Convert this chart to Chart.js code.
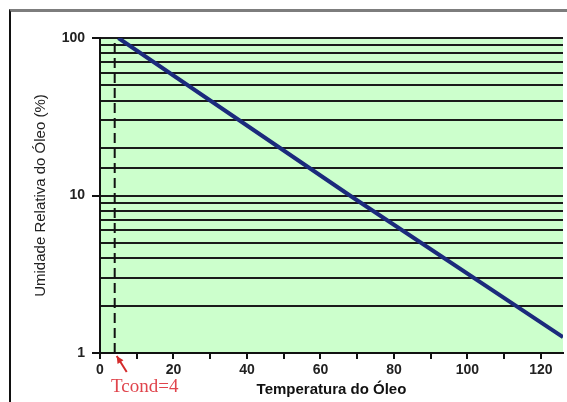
<!DOCTYPE html>
<html>
<head>
<meta charset="utf-8">
<title>Umidade Relativa do Óleo</title>
<script src="https://cdn.jsdelivr.net/npm/chart.js@4"></script>
<style>
  html, body { margin: 0; padding: 0; background: #fff; }
  .wrap { position: relative; width: 567px; height: 402px; overflow: hidden; }
  .frame {
    position: absolute; left: 9px; top: 9px; right: -4px; bottom: -4px;
    border-top: 3px solid #7d7d7d; border-left: 2px solid #111;
  }
  .chart-box { position: absolute; left: 0; top: 0; width: 567px; height: 402px; }
</style>
</head>
<body>
<div class="wrap">
  <div class="frame"></div>
  <div class="chart-box"><canvas id="oilChart"></canvas></div>
</div>
<script>
// Data
const tempValues = [5, 68, 126];          // Temperatura do Óleo
const humidityValues = [100, 10, 1.26];   // Umidade Relativa (%)
const TCOND = 4;                          // condensation temperature
const tcondRange = [1, 100];

// Axis settings
const X_MIN = 0;
const X_MAX = 126;
const X_TICK_STEP = 10;
const X_LABEL_STEP = 20;
const yLabelValues = [1, 10, 100];

const FONT = "'Liberation Sans', Arial, sans-serif";

// Light green plot background
const plotBackground = {
  id: "plotBackground",
  beforeDraw(chart) {
    const { ctx, chartArea } = chart;
    ctx.save();
    ctx.fillStyle = "#ccffcc";
    ctx.fillRect(chartArea.left, chartArea.top, chartArea.right - chartArea.left, chartArea.bottom - chartArea.top);
    ctx.restore();
  },
};

// Red "Tcond=4" note with arrow pointing at the dashed line
const tcondNote = {
  id: "tcondNote",
  afterDraw(chart) {
    const { ctx, chartArea } = chart;
    const x = chart.scales.x.getPixelForValue(TCOND);
    const y = chartArea.bottom;
    const tipX = x + 2, tipY = y + 3;
    const tailX = x + 12, tailY = y + 19;

    ctx.save();
    ctx.strokeStyle = "#d42a2a";
    ctx.fillStyle = "#d42a2a";
    ctx.lineWidth = 2;
    ctx.beginPath();
    ctx.moveTo(tailX, tailY);
    ctx.lineTo(tipX, tipY);
    ctx.stroke();
    // arrow head
    const ang = Math.atan2(tipY - tailY, tipX - tailX);
    ctx.beginPath();
    ctx.moveTo(tipX, tipY);
    ctx.lineTo(tipX - 8 * Math.cos(ang - 0.45), tipY - 8 * Math.sin(ang - 0.45));
    ctx.lineTo(tipX - 8 * Math.cos(ang + 0.45), tipY - 8 * Math.sin(ang + 0.45));
    ctx.closePath();
    ctx.fill();

    ctx.fillStyle = "#e0444c";
    ctx.font = "19px 'Liberation Serif', 'Times New Roman', serif";
    ctx.textAlign = "center";
    ctx.textBaseline = "alphabetic";
    ctx.fillText("Tcond=" + TCOND, x + 30, y + 39);
    ctx.restore();
  },
};

const ctx = document.getElementById("oilChart").getContext("2d");
new Chart(ctx, {
  type: "line",
  data: {
    datasets: [
      {
        data: tempValues.map((t, i) => ({ x: t, y: humidityValues[i] })),
        borderColor: "#1b2a7c",
        borderWidth: 4,
        pointRadius: 0,
        tension: 0,
        fill: false,
      },
      {
        data: tcondRange.map((h) => ({ x: TCOND, y: h })),
        borderColor: "#111",
        borderWidth: 2,
        borderDash: [10, 5],
        pointRadius: 0,
        fill: false,
      },
    ],
  },
  options: {
    responsive: true,
    maintainAspectRatio: false,
    animation: false,
    layout: { padding: { left: 0, top: 38, right: 4, bottom: 0 } },
    plugins: {
      legend: { display: false },
      tooltip: { enabled: false },
    },
    scales: {
      x: {
        type: "linear",
        min: X_MIN,
        max: X_MAX,
        afterBuildTicks: (scale) => {
          scale.ticks = scale.ticks.filter((t) => t.value % X_TICK_STEP === 0);
        },
        afterFit: (scale) => {
          scale.height = 49;
        },
        ticks: {
          stepSize: X_TICK_STEP,
          includeBounds: false,
          autoSkip: false,
          maxRotation: 0,
          padding: 3,
          color: "#222",
          font: { family: FONT, size: 14, weight: "bold" },
          callback: (v) => (v % X_LABEL_STEP === 0 ? v : ""),
        },
        grid: { drawOnChartArea: false, drawTicks: true, tickLength: 6, color: "#111", lineWidth: 2 },
        border: { color: "#111", width: 2 },
        title: {
          display: true,
          text: "Temperatura do Óleo",
          color: "#111",
          font: { family: FONT, size: 15, weight: "bold" },
          padding: { top: 0, bottom: 3 },
        },
      },
      y: {
        type: "logarithmic",
        min: 1,
        max: 100,
        afterFit: (scale) => {
          scale.width = 100;
        },
        ticks: {
          autoSkip: false,
          padding: 7,
          color: "#222",
          font: { family: FONT, size: 14, weight: "bold" },
          callback: (v) => (yLabelValues.includes(v) ? v : ""),
        },
        grid: {
          color: "#1a1a1a",
          lineWidth: 2,
          tickLength: 8,
          tickColor: (c) => (c.tick && yLabelValues.includes(c.tick.value) ? "#111" : "rgba(0,0,0,0)"),
        },
        border: { color: "#111", width: 2 },
        title: {
          display: true,
          text: "Umidade Relativa do Óleo (%)",
          color: "#222",
          font: { family: FONT, size: 15 },
          padding: { top: 32, bottom: 0 },
        },
      },
    },
  },
  plugins: [plotBackground, tcondNote],
});
</script>
</body>
</html>
